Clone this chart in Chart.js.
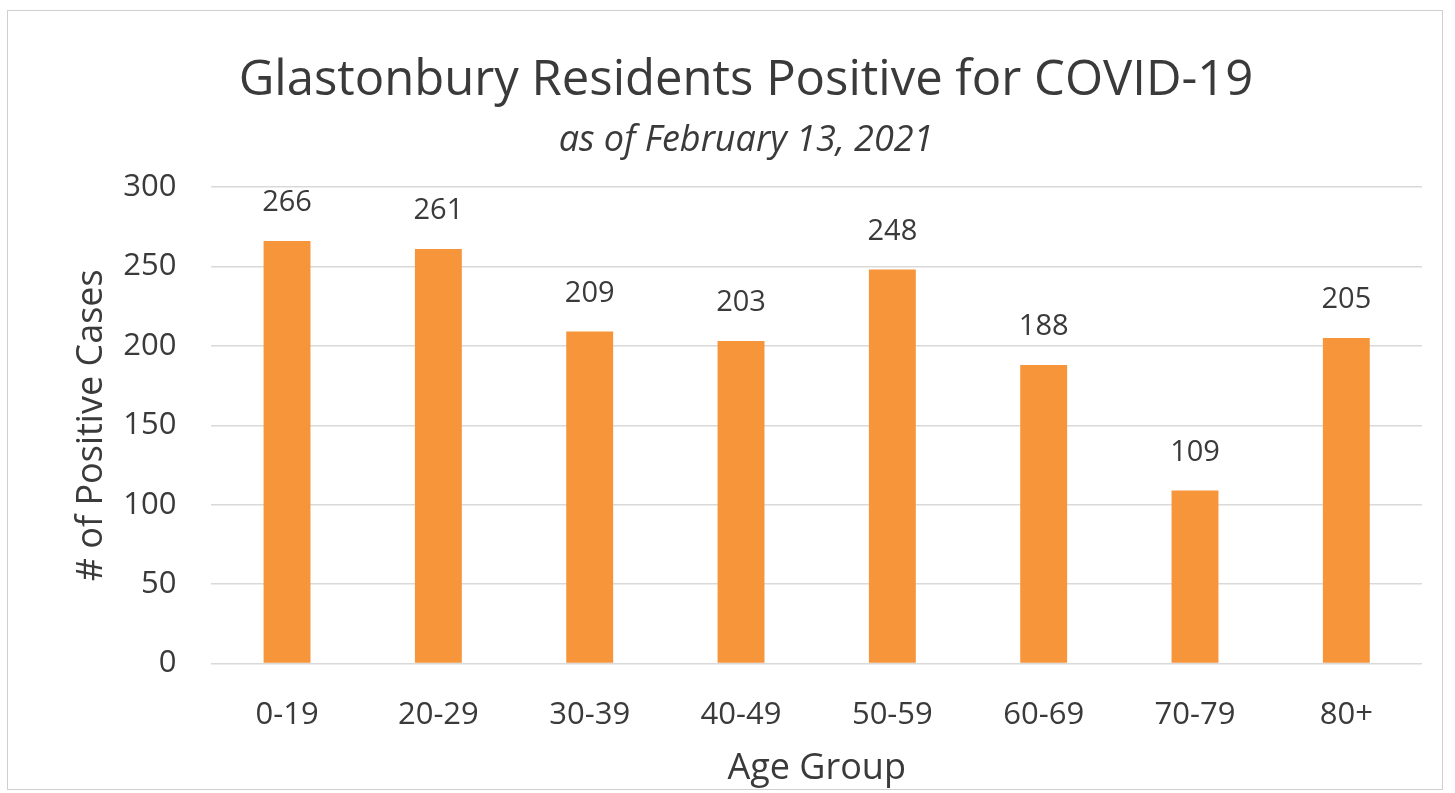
<!DOCTYPE html>
<html>
<head>
<meta charset="utf-8">
<script src="https://cdn.jsdelivr.net/npm/chart.js@4/dist/chart.umd.min.js"></script>
<style>
  html, body { margin: 0; padding: 0; background: #fff; }
  #frame {
    position: absolute; left: 7px; top: 10px; width: 1436px; height: 780px;
    border: 1px solid #cfcfcf; box-sizing: border-box;
  }
  #wrap { position: absolute; left: 0; top: 0; width: 1455px; height: 793px; }
</style>
</head>
<body>
<div id="frame"></div>
<div id="wrap"><canvas id="casesChart"></canvas></div>
<script>
const ageGroups = ['0-19', '20-29', '30-39', '40-49', '50-59', '60-69', '70-79', '80+'];
const positiveCases = [266, 261, 209, 203, 248, 188, 109, 205];
const yTicks = [0, 50, 100, 150, 200, 250, 300];

const textColor = '#3a3a3a';
const fontFamily = "'Open Sans', 'Noto Sans', sans-serif";

// labels above each bar, placed from the bar elements
const barLabels = {
    id: 'barLabels',
    afterDatasetsDraw(chart) {
        const ctx = chart.ctx;
        const meta = chart.getDatasetMeta(0);
        ctx.save();
        ctx.fillStyle = textColor;
        ctx.font = '29px ' + fontFamily;
        ctx.textAlign = 'center';
        ctx.textBaseline = 'middle';
        meta.data.forEach((bar, i) => {
            ctx.fillText(positiveCases[i], bar.x, bar.y - 38);
        });
        ctx.restore();
    }
};

const ctx = document.getElementById('casesChart').getContext('2d');
const casesChart = new Chart(ctx, {
    type: 'bar',
    data: {
        labels: ageGroups,
        datasets: [{
            data: positiveCases,
            backgroundColor: '#f7953b',
            barPercentage: 0.62,
            categoryPercentage: 0.5
        }]
    },
    options: {
        responsive: true,
        maintainAspectRatio: false,
        animation: false,
        layout: { padding: { left: 70, right: 33, top: 52, bottom: 0 } },
        plugins: {
            legend: { display: false },
            tooltip: { enabled: false },
            title: {
                display: true,
                text: 'Glastonbury Residents Positive for COVID-19',
                color: textColor,
                font: { family: fontFamily, size: 49, weight: 'normal' },
                padding: { top: 0, bottom: 8 }
            },
            subtitle: {
                display: true,
                text: 'as of February 13, 2021',
                color: textColor,
                font: { family: fontFamily, size: 36, style: 'italic' },
                padding: { top: 0, bottom: 25 }
            }
        },
        scales: {
            x: {
                grid: { display: false },
                border: { display: false },
                ticks: { color: textColor, font: { family: fontFamily, size: 31 }, padding: 25 },
                title: {
                    display: true,
                    text: 'Age Group',
                    color: textColor,
                    font: { family: fontFamily, size: 36 },
                    padding: { top: -12, bottom: 3 }
                }
            },
            y: {
                min: 0,
                max: 300,
                afterBuildTicks: (axis) => { axis.ticks = yTicks.map(v => ({ value: v })); },
                grid: { color: '#d9d9d9', lineWidth: 1.5, drawTicks: false },
                border: { display: false },
                ticks: { color: textColor, font: { family: fontFamily, size: 31 }, padding: 35 },
                title: {
                    display: true,
                    text: '# of Positive Cases',
                    color: textColor,
                    font: { family: fontFamily, size: 36 },
                    padding: { top: 0, bottom: -25 }
                }
            }
        }
    },
    plugins: [barLabels]
});
</script>
</body>
</html>
